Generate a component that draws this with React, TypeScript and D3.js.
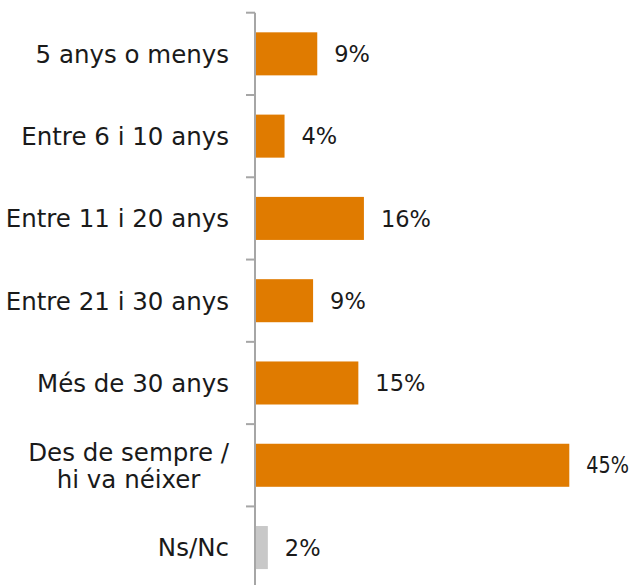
import React, { useEffect, useRef } from "react";
import * as d3 from "d3";

const categories: string[][] = [
  ["5 anys o menys"],
  ["Entre 6 i 10 anys"],
  ["Entre 11 i 20 anys"],
  ["Entre 21 i 30 anys"],
  ["Més de 30 anys"],
  ["Des de sempre /", "hi va néixer"],
  ["Ns/Nc"],
];
const values: number[] = [8.8, 4.1, 15.5, 8.2, 14.7, 45.0, 1.7];
const valueLabels: string[] = ["9%", "4%", "16%", "9%", "15%", "45%", "2%"];
const barColors: string[] = ["#E07B00", "#E07B00", "#E07B00", "#E07B00", "#E07B00", "#E07B00", "#C8C8C8"];

const W = 635;
const H = 585;
const FONT = "'DejaVu Sans', sans-serif";
const FS_CAT = 24.5;
const FS_VAL = 22.5;

export default function App() {
  const ref = useRef<SVGSVGElement | null>(null);

  useEffect(() => {
    const svg = d3.select(ref.current);
    svg.selectAll("*").remove();

    const idx = categories.map((_, i) => String(i));
    const y = d3.scaleBand<string>().domain(idx).range([12.7, 588.7]).paddingInner(0.477).paddingOuter(0.2385);
    const x = d3.scaleLinear().domain([0, 45]).range([256, 569.3]);
    const step = y.step();
    const axisX = 255;

    svg.append("g")
      .selectAll("rect")
      .data(values)
      .join("rect")
      .attr("x", x(0))
      .attr("y", (_, i) => y(String(i))!)
      .attr("width", (d) => x(d) - x(0))
      .attr("height", y.bandwidth())
      .attr("fill", (_, i) => barColors[i]);

    const g = svg.append("g").attr("stroke", "#A6A6A6").attr("stroke-width", 2);
    g.append("line").attr("x1", axisX).attr("x2", axisX).attr("y1", 12.7).attr("y2", 588.7);
    const tickYs = d3.range(categories.length + 1).map((i) => 12.7 + i * step);
    g.selectAll("line.tick")
      .data(tickYs)
      .join("line")
      .attr("class", "tick")
      .attr("x1", axisX - 9)
      .attr("x2", axisX)
      .attr("y1", (d) => d)
      .attr("y2", (d) => d);

    // value labels
    const capV = (FS_VAL * 0.73) / 2;
    const vt = svg.append("g")
      .selectAll("text")
      .data(values)
      .join("text")
      .attr("x", (d) => x(d) + 17)
      .attr("y", (_, i) => y(String(i))! + y.bandwidth() / 2 + capV)
      .attr("font-family", FONT)
      .attr("font-size", FS_VAL)
      .attr("fill", "#1a1a1a")
      .text((_, i) => valueLabels[i]);
    vt.each(function (d) {
      const el = this as SVGTextElement;
      const len = el.getComputedTextLength();
      const avail = W - 6 - (x(d) + 17);
      if (len > avail) {
        d3.select(el).attr("textLength", avail).attr("lengthAdjust", "spacingAndGlyphs");
      }
    });

    // category labels
    const capC = (FS_CAT * 0.73) / 2;
    const lh = 26.7;
    const rightEdge = 229;
    categories.forEach((lines, i) => {
      const cy = y(String(i))! + y.bandwidth() / 2;
      const n = lines.length;
      const gl = svg.append("g");
      const texts = lines.map((t, k) =>
        gl.append("text")
          .attr("y", cy - ((n - 1) * lh) / 2 + k * lh + capC)
          .attr("font-family", FONT)
          .attr("font-size", FS_CAT)
          .attr("fill", "#1a1a1a")
          .attr("text-anchor", "middle")
          .text(t)
      );
      const widths = texts.map((t) => (t.node() as SVGTextElement).getComputedTextLength());
      const maxW = Math.max(...widths);
      const cx = rightEdge - maxW / 2;
      texts.forEach((t) => t.attr("x", cx));
    });
  }, []);

  return (
    <svg
      ref={ref}
      width={W}
      height={H}
      style={{ position: "absolute", left: 0, top: 0, background: "#fff" }}
    />
  );
}
